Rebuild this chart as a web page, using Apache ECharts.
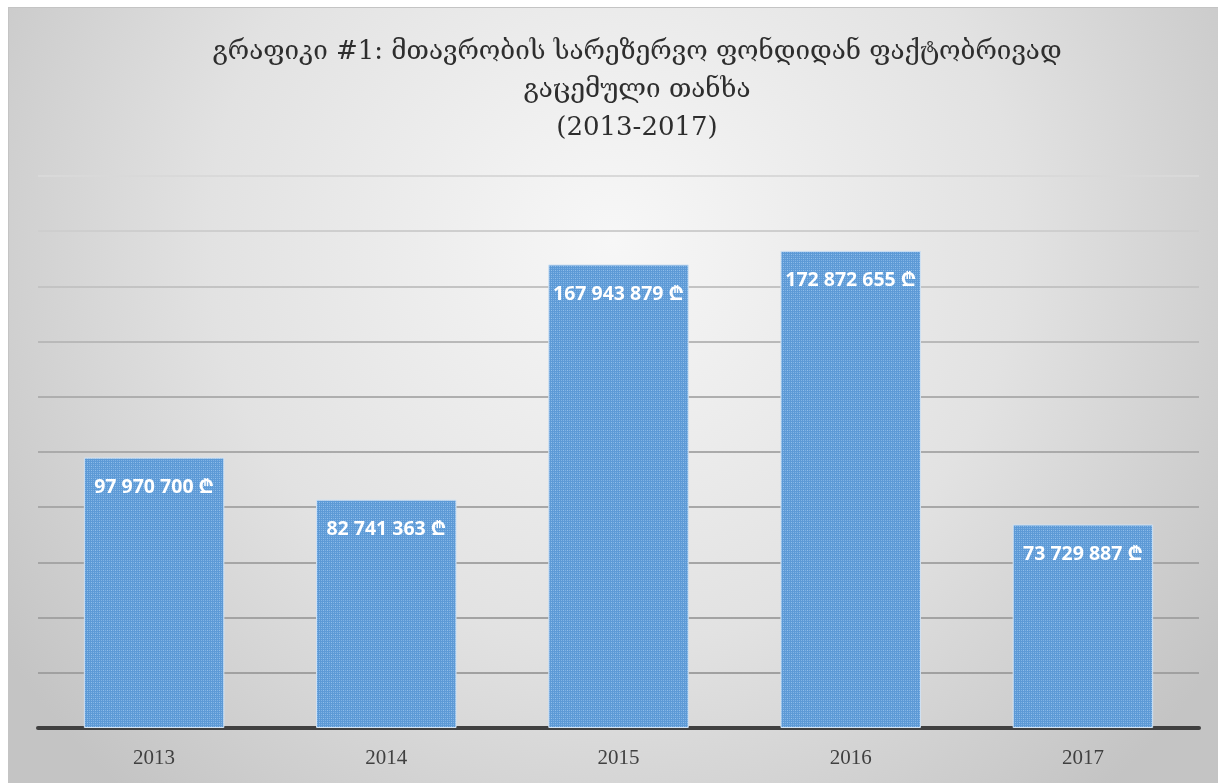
<!DOCTYPE html>
<html>
<head>
<meta charset="utf-8">
<script src="https://cdn.jsdelivr.net/npm/echarts@6/dist/echarts.min.js"></script>
<style>
html,body{margin:0;padding:0;background:#fff;width:1218px;height:783px;overflow:hidden;}
#chart{position:absolute;left:8px;top:7px;width:1210px;height:776px;border-top:1px solid #c4c4c4;border-left:1px solid #c4c4c4;box-sizing:border-box;}
</style>
</head>
<body>
<div id="chart"></div>
<script>
const categories = ['2013', '2014', '2015', '2016', '2017'];
const values = [97970700, 82741363, 167943879, 172872655, 73729887];
const titleLines = ['გრაფიკი #1: მთავრობის სარეზერვო ფონდიდან ფაქტობრივად', 'გაცემული თანხა', '(2013-2017)'];

function fmt(v) {
  return String(v).replace(/\B(?=(\d{3})+(?!\d))/g, ' ') + ' ₾';
}

// bar fill pattern
const tile = document.createElement('canvas');
tile.width = 4; tile.height = 4;
const tc = tile.getContext('2d');
tc.fillStyle = '#5d9ad6';
tc.fillRect(0, 0, 4, 4);
tc.fillStyle = '#7fb1e4';
tc.fillRect(0, 0, 1, 1);
tc.fillRect(2, 0, 1, 1);
tc.fillRect(0, 2, 1, 1);
tc.fillStyle = '#92bfea';
tc.fillRect(2, 2, 1, 1);

const chart = echarts.init(document.getElementById('chart'));
chart.setOption({
  backgroundColor: new echarts.graphic.RadialGradient(0.5, 0.3, 0.95, [
    { offset: 0, color: '#f7f7f7' },
    { offset: 0.55, color: '#e2e2e2' },
    { offset: 1, color: '#c4c4c4' }
  ]),
  title: {
    text: titleLines.join('\n'),
    left: 623,
    textAlign: 'center',
    top: 20,
    textStyle: {
      fontFamily: 'DejaVu Serif, DejaVu Sans, serif',
      fontSize: 26,
      fontWeight: 'normal',
      color: '#2e2e2e',
      lineHeight: 38
    }
  },
  grid: { left: 29, right: 19, top: 168, bottom: 55 },
  xAxis: {
    type: 'category',
    data: categories,
    axisTick: { show: false },
    axisLine: { lineStyle: { color: '#404040', width: 4 } },
    axisLabel: {
      fontFamily: 'Liberation Serif, serif',
      fontSize: 21,
      color: '#404040',
      margin: 20
    }
  },
  yAxis: {
    type: 'value',
    min: 0,
    max: 200000000,
    interval: 20000000,
    axisLabel: { show: false },
    axisLine: { show: false },
    axisTick: { show: false },
    splitLine: {
      lineStyle: {
        width: 2,
        color: new echarts.graphic.LinearGradient(0, 168, 0, 721, [
          { offset: 0, color: '#d9d9d9' },
          { offset: 0.42, color: '#acacac' },
          { offset: 1, color: '#9e9e9e' }
        ], true)
      }
    }
  },
  series: [{
    type: 'bar',
    data: values,
    barWidth: '60.5%',
    itemStyle: {
      color: { image: tile, repeat: 'repeat' },
      borderColor: '#d2e3f4',
      borderWidth: 1
    },
    label: {
      show: true,
      position: 'insideTop',
      distance: 20,
      formatter: p => fmt(p.value),
      fontFamily: 'Open Sans, Noto Sans, DejaVu Sans, sans-serif',
      fontWeight: 'bold',
      fontSize: 19.5,
      color: '#ffffff'
    }
  }]
});
</script>
</body>
</html>
